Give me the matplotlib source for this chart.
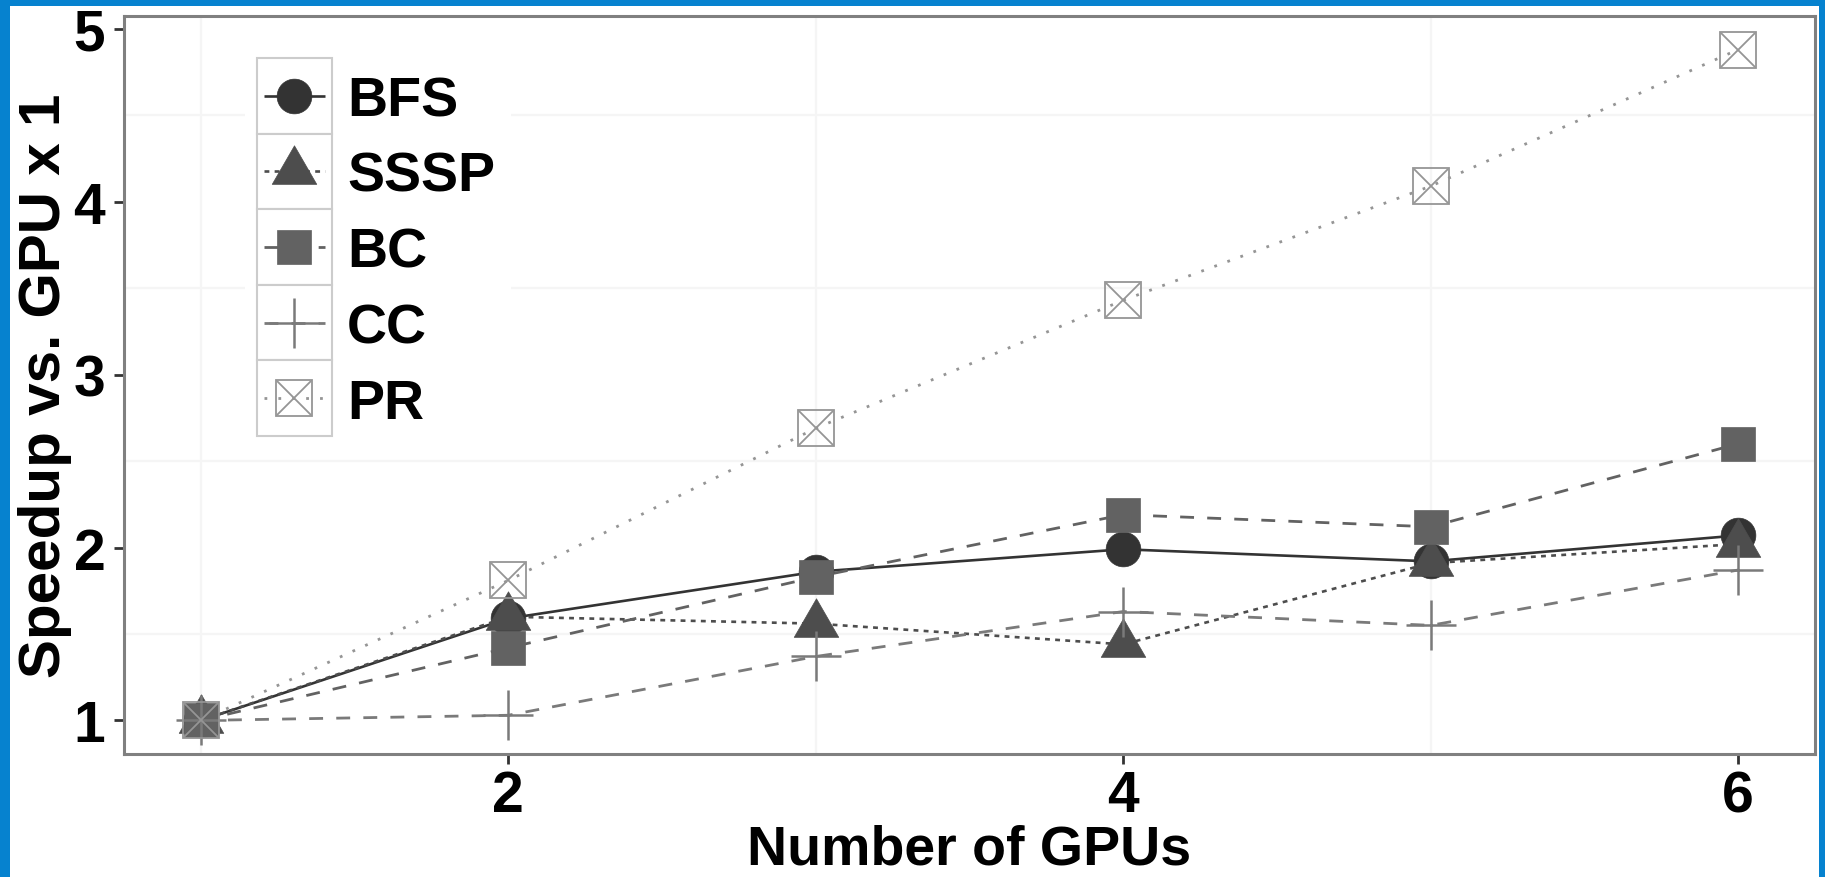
import matplotlib
matplotlib.use("Agg")
import matplotlib.pyplot as plt
from matplotlib.transforms import Affine2D
from matplotlib.patches import Rectangle
from matplotlib.lines import Line2D
from matplotlib.path import Path

# ---- data -------------------------------------------------------------
gpus = [1, 2, 3, 4, 5, 6]
bfs = [1.00, 1.59, 1.86, 1.99, 1.92, 2.07]
sssp = [1.00, 1.60, 1.56, 1.44, 1.91, 2.02]
bc = [1.00, 1.42, 1.83, 2.19, 2.12, 2.60]
cc = [1.00, 1.03, 1.37, 1.63, 1.55, 1.87]
pr = [1.00, 1.81, 2.69, 3.43, 4.09, 4.88]

series_names = ["BFS", "SSSP", "BC", "CC", "PR"]
x_ticks = [2, 4, 6]
y_ticks = [1, 2, 3, 4, 5]
x_title = "Number of GPUs"
y_title = "Speedup vs. GPU x 1"

# ---- figure setup ------------------------------------------------------
W, H, DPI = 1825, 878, 100
plt.rcParams["font.family"] = ["Liberation Sans", "DejaVu Sans"]
plt.rcParams["font.weight"] = "bold"
plt.rcParams["lines.scale_dashes"] = False

fig = plt.figure(figsize=(W / DPI, H / DPI), dpi=DPI, facecolor="white")
# panel placed in pixel units (left, top, right, bottom)
L, T, R, B = 124, 17, 1815, 755
ax = fig.add_axes([L / W, 1 - B / H, (R - L) / W, (B - T) / H])
pix = Affine2D().scale(1 / W, -1 / H).translate(0, 1) + fig.transFigure

# equilateral triangle centred on its centroid
tri = Path([(0, 0.577), (-0.5, -0.289), (0.5, -0.289), (0, 0.577)],
           [Path.MOVETO, Path.LINETO, Path.LINETO, Path.CLOSEPOLY])

styles = {
    "BFS": dict(color="#333333", line=dict(linestyle="-", lw=1.9),
                marks=[dict(marker="o", ms=25, mew=0.5)]),
    "SSSP": dict(color="#4d4d4d", line=dict(dashes=(3.5, 3.8), lw=1.9),
                 marks=[dict(marker=tri, ms=37, mew=0.5)]),
    "BC": dict(color="#626262", line=dict(dashes=(10, 9.5), lw=2.0),
               marks=[dict(marker="s", ms=25, mew=0.5)]),
    "CC": dict(color="#7a7a7a", line=dict(dashes=(10, 9.5), lw=2.0),
               marks=[dict(marker="+", ms=36, mew=1.8)]),
    "PR": dict(color="#959595", line=dict(dashes=(2.0, 8.0), lw=2.0),
               marks=[dict(marker="s", ms=26, mew=1.3, mfc="none"),
                      dict(marker="x", ms=25, mew=1.3)]),
}
values = dict(zip(series_names, [bfs, sssp, bc, cc, pr]))

# lines first, then all the points on top
for name in series_names:
    st = styles[name]
    ax.plot(gpus, values[name], color=st["color"], zorder=2,
            solid_capstyle="butt", dash_capstyle="butt", **st["line"])
for i, name in enumerate(series_names):
    st = styles[name]
    for mk in st["marks"]:
        kw = dict(mk)
        kw.setdefault("mfc", st["color"])
        ax.plot(gpus, values[name], linestyle="none", mec=st["color"],
                zorder=3 + i, **kw)

# ---- scales -------------------------------------------------------------
all_y = bfs + sssp + bc + cc + pr
ymin, ymax = min(all_y), max(all_y)
xmin, xmax = min(gpus), max(gpus)
ax.set_xlim(xmin - 0.05 * (xmax - xmin), xmax + 0.05 * (xmax - xmin))
ax.set_ylim(ymin - 0.05 * (ymax - ymin), ymax + 0.05 * (ymax - ymin))
ax.set_xticks(x_ticks)
ax.set_yticks(y_ticks)
ax.set_xticks([1, 3, 5], minor=True)
ax.set_yticks([1.5, 2.5, 3.5, 4.5], minor=True)
ax.grid(which="minor", color="#f5f5f5", lw=1.6, zorder=0)
ax.grid(which="major", visible=False)
ax.set_axisbelow(True)
ax.tick_params(which="minor", length=0)
ax.tick_params(which="major", length=7.5, width=2.0, color="#333333",
               labelsize=41, labelcolor="black")
ax.tick_params(axis="x", which="major", pad=3.5)
ax.tick_params(axis="y", which="major", pad=6.0)
for sp in ax.spines.values():
    sp.set_color("#808080")
    sp.set_linewidth(2.2)

ax.set_xlabel(x_title, fontsize=40, fontweight="bold", va="bottom")
# bottom of the title's box sits just inside the lower edge
ax.xaxis.set_label_coords(0.5, -(877 - B) / (B - T))
ax.set_ylabel(y_title, fontsize=42, fontweight="bold", labelpad=1)

# ---- legend (keyed boxes, ggplot-like) -------------------------------
fig.add_artist(Rectangle((245, 50), 266, 396, transform=pix,
                         facecolor="white", edgecolor="none", zorder=5))
key_x0, key_y0, key_w, key_h = 257, 59, 75, 75.6
for i, name in enumerate(series_names):
    st = styles[name]
    y0 = key_y0 + i * key_h
    cy = y0 + key_h / 2
    fig.add_artist(Rectangle((key_x0, y0), key_w, key_h, transform=pix,
                             facecolor="white", edgecolor="#cccccc",
                             lw=1.5, zorder=6))
    fig.add_artist(Line2D([key_x0 + 7, key_x0 + key_w - 7], [cy, cy],
                          transform=pix, color=st["color"], zorder=7,
                          solid_capstyle="butt", dash_capstyle="butt",
                          **st["line"]))
    for mk in st["marks"]:
        kw = dict(mk)
        kw.setdefault("mfc", st["color"])
        fig.add_artist(Line2D([key_x0 + key_w / 2], [cy], transform=pix,
                              linestyle="none", mec=st["color"], zorder=8,
                              **kw))
    fig.text(347, cy + 19.5, name, transform=pix, fontsize=40,
             fontweight="bold", ha="left", va="baseline", zorder=8)

# ---- blue frame around the picture ----------------------------------
frame_blue = "#0682cf"
for x0, y0, w, h in [(0, 0, 10, H), (0, 0, W, 7), (1819, 0, 6, H)]:
    fig.add_artist(Rectangle((x0, y0), w, h, transform=pix,
                             facecolor=frame_blue, edgecolor="none",
                             zorder=20))

fig.savefig("out.png", dpi=DPI, facecolor="white")
